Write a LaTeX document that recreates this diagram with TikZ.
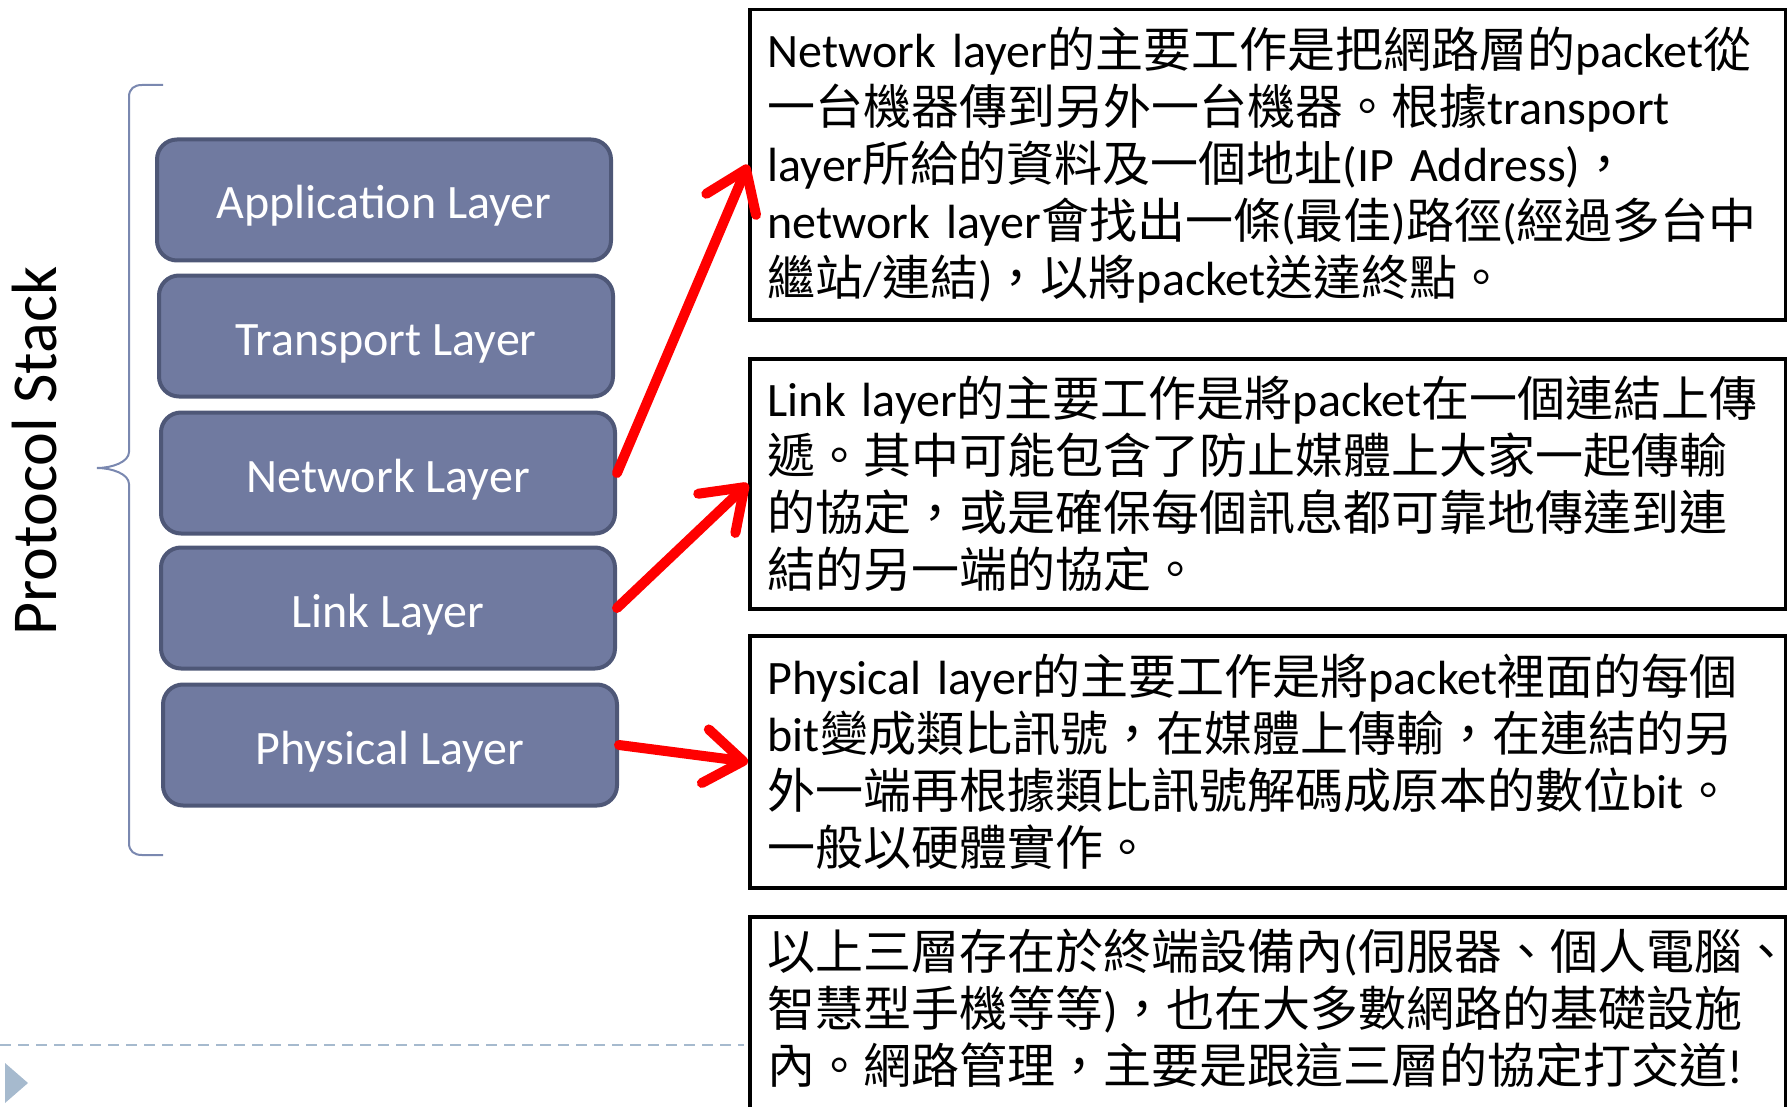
\documentclass[tikz,border=0pt]{standalone}
\usepackage{fontspec}
\setmainfont{Carlito}
\newfontfamily\cjk{Noto Sans CJK TC}
\usetikzlibrary{arrows.meta,positioning}

\definecolor{layerfill}{RGB}{112,122,160}
\definecolor{layerline}{RGB}{78,87,119}
\definecolor{bracecol}{RGB}{122,136,176}
\definecolor{slideblue}{RGB}{166,186,206}

% latin run inside the chinese text
\newcommand{\en}[1]{{\rmfamily #1}}

\tikzset{
    layerbox/.style={rectangle, rounded corners=20pt, draw=layerline, line width=4pt, fill=layerfill,
        text=white, minimum width=454pt, minimum height=121pt, text height=38pt, text depth=0pt,
        font=\fontsize{48}{54}\selectfont},
    infobox/.style={draw, line width=3.5pt, anchor=north west, text width=1000pt, inner xsep=18pt,
        inner ysep=12pt, align=left, font=\cjk\fontsize{48}{57}\selectfont},
    redarrow/.style={red, line width=10pt, line cap=round, -{Straight Barb[length=38pt,width=54pt,round]}}
}

\begin{document}
\begin{tikzpicture}[x=1pt,y=-1pt]
    \useasboundingbox (0,0) rectangle (1787,1107);

    % the stack
    \node [layerbox] (app) at (384,200) {Application Layer};
    \node [layerbox] (trans) at (386,336) {Transport Layer};
    \node [layerbox] (net) at (388,473) {Network Layer};
    \node [layerbox] (link) at (388,608) {Link Layer};
    \node [layerbox] (phys) at (390,745) {Physical Layer};

    \draw [bracecol, line width=2pt]
        (163,85) -- (142,85) .. controls (134,85) and (129,89) .. (129,97) -- (129,452)
        .. controls (129,462) and (112,468) .. (97,468)
        .. controls (112,468) and (129,474) .. (129,484) -- (129,843)
        .. controls (129,851) and (134,855) .. (142,855) -- (163,855);
    \node [rotate=90, font=\fontsize{64}{72}\selectfont] (stack) at (35,451) {Protocol Stack};

    % explanations
    \node [infobox, minimum height=310pt] (netbox) at (748,8) {%
        \en{Network layer}的主要工作是把網路層的\en{packet}從\\
        一台機器傳到另外一台機器。根據\en{transport}\\
        \en{layer}所給的資料及一個地址\en{(IP Address)}，\\
        \en{network layer}會找出一條\en{(}最佳\en{)}路徑\en{(}經過多台中\\
        繼站\en{/}連結\en{)}，以將\en{packet}送達終點。};
    \node [infobox, minimum height=250pt] (linkbox) at (748,357) {%
        \en{Link layer}的主要工作是將\en{packet}在一個連結上傳\\
        遞。其中可能包含了防止媒體上大家一起傳輸\\
        的協定，或是確保每個訊息都可靠地傳達到連\\
        結的另一端的協定。};
    \node [infobox, minimum height=252pt] (physbox) at (748,634) {%
        \en{Physical layer}的主要工作是將\en{packet}裡面的每個\\
        \en{bit}變成類比訊號，在媒體上傳輸，在連結的另\\
        外一端再根據類比訊號解碼成原本的數位\en{bit}。\\
        一般以硬體實作。};
    % box runs off the bottom of the page
    \node [infobox] (notebox) at (748,915) {%
        以上三層存在於終端設備內\en{(}伺服器、個人電腦、\\
        智慧型手機等等\en{)}，也在大多數網路的基礎設施\\
        內。網路管理，主要是跟這三層的協定打交道\en{!}\\
        \mbox{}};

    \draw [redarrow] (net.east) -- (netbox.west);
    \draw [redarrow] (link.east) -- (linkbox.west);
    \draw [redarrow] (phys.east) -- (physbox.west);

    % slide decoration
    \draw [slideblue, line width=2.5pt, dash pattern=on 11pt off 7pt] (0,1045) -- (744,1045);
    \fill [slideblue] (5,1063) -- (28,1083) -- (5,1103) -- cycle;
\end{tikzpicture}
\end{document}
